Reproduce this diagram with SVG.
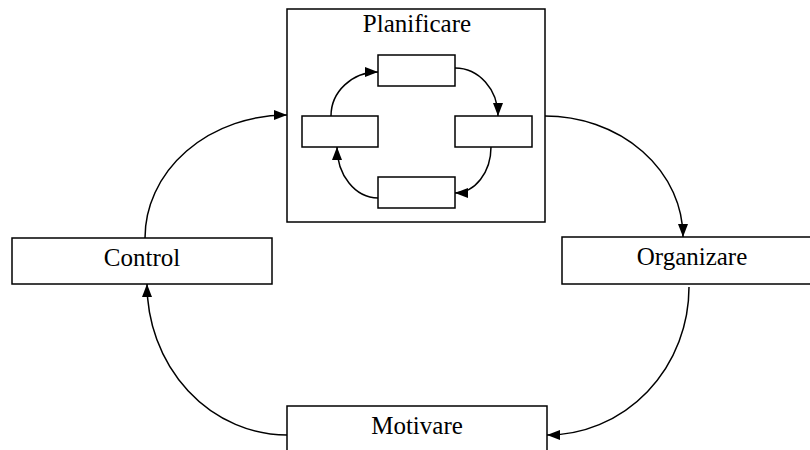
<svg xmlns="http://www.w3.org/2000/svg" width="810" height="450" viewBox="0 0 810 450">
<style>
.box{fill:#fff;stroke:#000;stroke-width:1.5}
.lbl{font-family:"Liberation Serif","Times New Roman",serif;font-size:25px;fill:#000;text-anchor:middle}
.con{fill:none;stroke:#000;stroke-width:1.5;marker-end:url(#ah)}
</style>
<defs>
<marker id="ah" markerUnits="userSpaceOnUse" markerWidth="13" markerHeight="10" refX="13" refY="5" orient="auto">
<path d="M0,0 L13,5 L0,10 z" fill="#000"/>
</marker>
</defs>
<rect width="810" height="450" fill="#fff"/>
<g id="planificare">
<rect class="box" x="287" y="9" width="258" height="213"/>
<text class="lbl" x="417" y="32">Planificare</text>
</g>
<g id="p-top"><rect class="box" x="378" y="55" width="77" height="31"/></g>
<g id="p-left"><rect class="box" x="302" y="116" width="76" height="31"/></g>
<g id="p-right"><rect class="box" x="455" y="116" width="77" height="31"/></g>
<g id="p-bottom"><rect class="box" x="378" y="177" width="77" height="31"/></g>
<g id="control">
<rect class="box" x="12" y="238" width="260" height="46"/>
<text class="lbl" x="142" y="266">Control</text>
</g>
<g id="organizare">
<rect class="box" x="562" y="237" width="262" height="47"/>
<text class="lbl" x="692" y="265">Organizare</text>
</g>
<g id="motivare">
<rect class="box" x="287" y="406" width="260" height="60"/>
<text class="lbl" x="417" y="434">Motivare</text>
</g>
<g id="connectors">
<path class="con" d="M145,238 A142,123 0 0 1 287,115"/>
<path class="con" d="M545,116 A138,121 0 0 1 683,237"/>
<path class="con" d="M689,287 A142,148 0 0 1 547,435"/>
<path class="con" d="M287,435 A140,151 0 0 1 147,284"/>
<path class="con" d="M331,116 A47,44 0 0 1 378,72"/>
<path class="con" d="M455,68 A43,48 0 0 1 498,116"/>
<path class="con" d="M491,147 A36,46 0 0 1 455,193"/>
<path class="con" d="M378,198 A41,51 0 0 1 337,147"/>
</g>
</svg>
